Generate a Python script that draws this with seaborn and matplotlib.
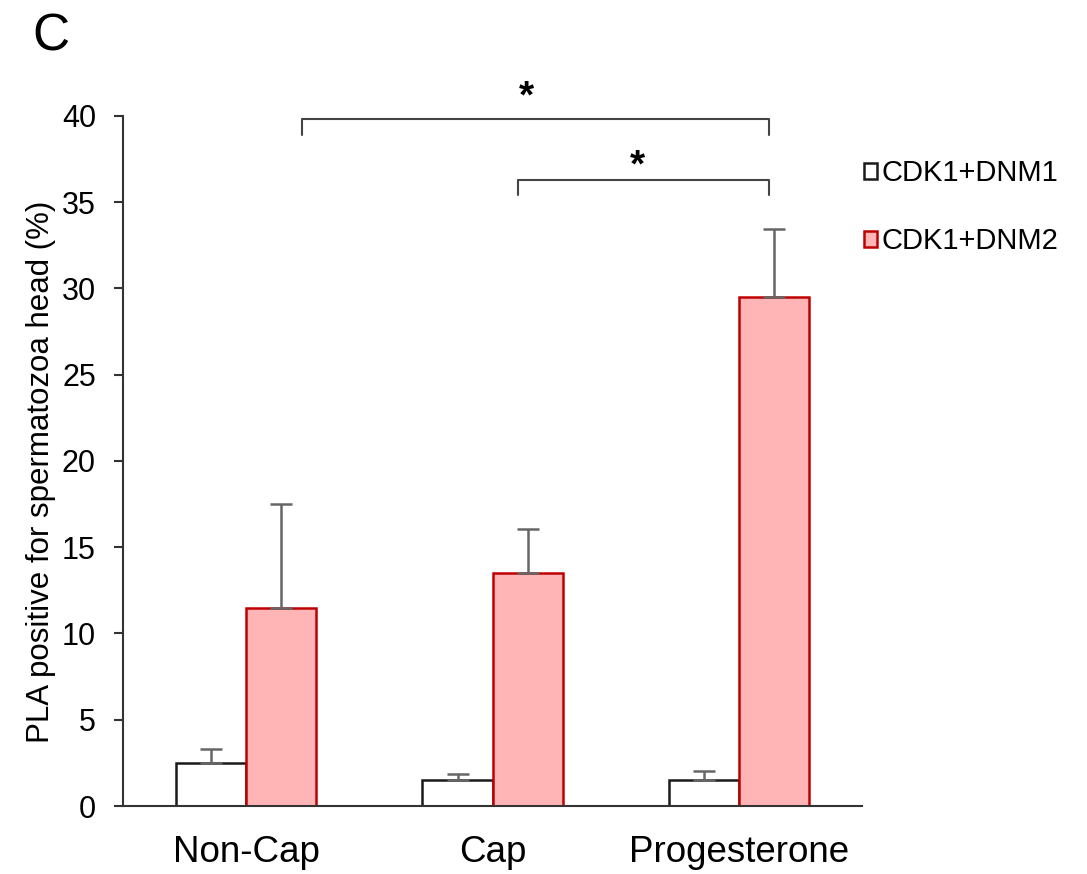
import pandas as pd
import matplotlib.pyplot as plt
import seaborn as sns

conditions = ['Non-Cap', 'Cap', 'Progesterone']
probes = ['CDK1+DNM1', 'CDK1+DNM2']
dnm1_mean = [2.5, 1.5, 1.5]
dnm1_err = [0.8, 0.35, 0.55]
dnm2_mean = [11.5, 13.5, 29.5]
dnm2_err = [6.0, 2.55, 3.95]

df = pd.DataFrame({
    'condition': conditions * 2,
    'probe': [probes[0]] * 3 + [probes[1]] * 3,
    'value': dnm1_mean + dnm2_mean,
})

sns.set_style('white')
plt.rcParams['font.family'] = ['Liberation Sans', 'DejaVu Sans']
plt.rcParams['text.color'] = 'black'
plt.rcParams['axes.labelcolor'] = 'black'
plt.rcParams['xtick.color'] = 'black'
plt.rcParams['ytick.color'] = 'black'

fig = plt.figure(figsize=(10.87, 8.74), dpi=100)
ax = fig.add_axes([0.1132, 0.0778, 0.68, 0.7895])

face = {probes[0]: 'white', probes[1]: '#ffb4b6'}
edge = {probes[0]: '#1a1a1a', probes[1]: '#c00000'}

sns.barplot(data=df, x='condition', y='value', hue='probe', order=conditions,
            hue_order=probes, palette=face, saturation=1, width=0.57, gap=0,
            errorbar=None, legend=False, ax=ax)

# edges + error bars (upper only)
errs = [dnm1_err, dnm2_err]
bar_conts = list(ax.containers)
for i, cont in enumerate(bar_conts):
    for j, bar in enumerate(cont):
        bar.set_edgecolor(edge[probes[i]])
        bar.set_linewidth(1.8)
        x = bar.get_x() + bar.get_width() / 2
        h = bar.get_height()
        ax.errorbar(x, h, yerr=[[0], [errs[i][j]]], color='#666666',
                    lw=1.8, capsize=8, capthick=1.8, zorder=1)

ax.set_xlim(-0.5, 2.5)
ax.set_ylim(0, 40)
ax.set_yticks(range(0, 41, 5))
ax.set_xlabel('')
ax.set_ylabel('PLA positive for spermatozoa head (%)', fontsize=22.5)
ax.yaxis.set_label_coords(-0.091, 0.485)
ax.tick_params(axis='y', labelsize=22, length=6.5, width=1.5, direction='out',
               left=True, color='#333333', pad=13)
ax.tick_params(axis='x', labelsize=26.5, length=0, pad=21)
for s in ['top', 'right']:
    ax.spines[s].set_visible(False)
for s in ['left', 'bottom']:
    ax.spines[s].set_color('#333333')
    ax.spines[s].set_linewidth(1.5)

# significance brackets
def bracket(x0, x1, y, drop, star_x, star_y):
    ax.plot([x0, x0, x1, x1], [y - drop, y, y, y - drop], color='#444444',
            lw=1.5, clip_on=False)
    ax.text(star_x, star_y, '*', fontsize=28, fontweight='bold',
            ha='center', va='center')

bracket(0.227, 2.122, 39.8, 0.9, 1.137, 41.1)
bracket(1.101, 2.122, 36.3, 0.9, 1.586, 37.1)

# legend
handles = [plt.Rectangle((0, 0), 1, 1, facecolor=face[p], edgecolor=edge[p], lw=1.8)
           for p in probes]
fig.legend(handles, probes, loc='upper left', bbox_to_anchor=(0.771, 0.848),
           frameon=False, fontsize=21, handlelength=0.45, handleheight=0.45,
           handletextpad=0.15, labelspacing=1.37)

fig.text(0.03, 0.958, 'C', fontsize=37, va='center', ha='left')

fig.savefig('out.png', dpi=100)
